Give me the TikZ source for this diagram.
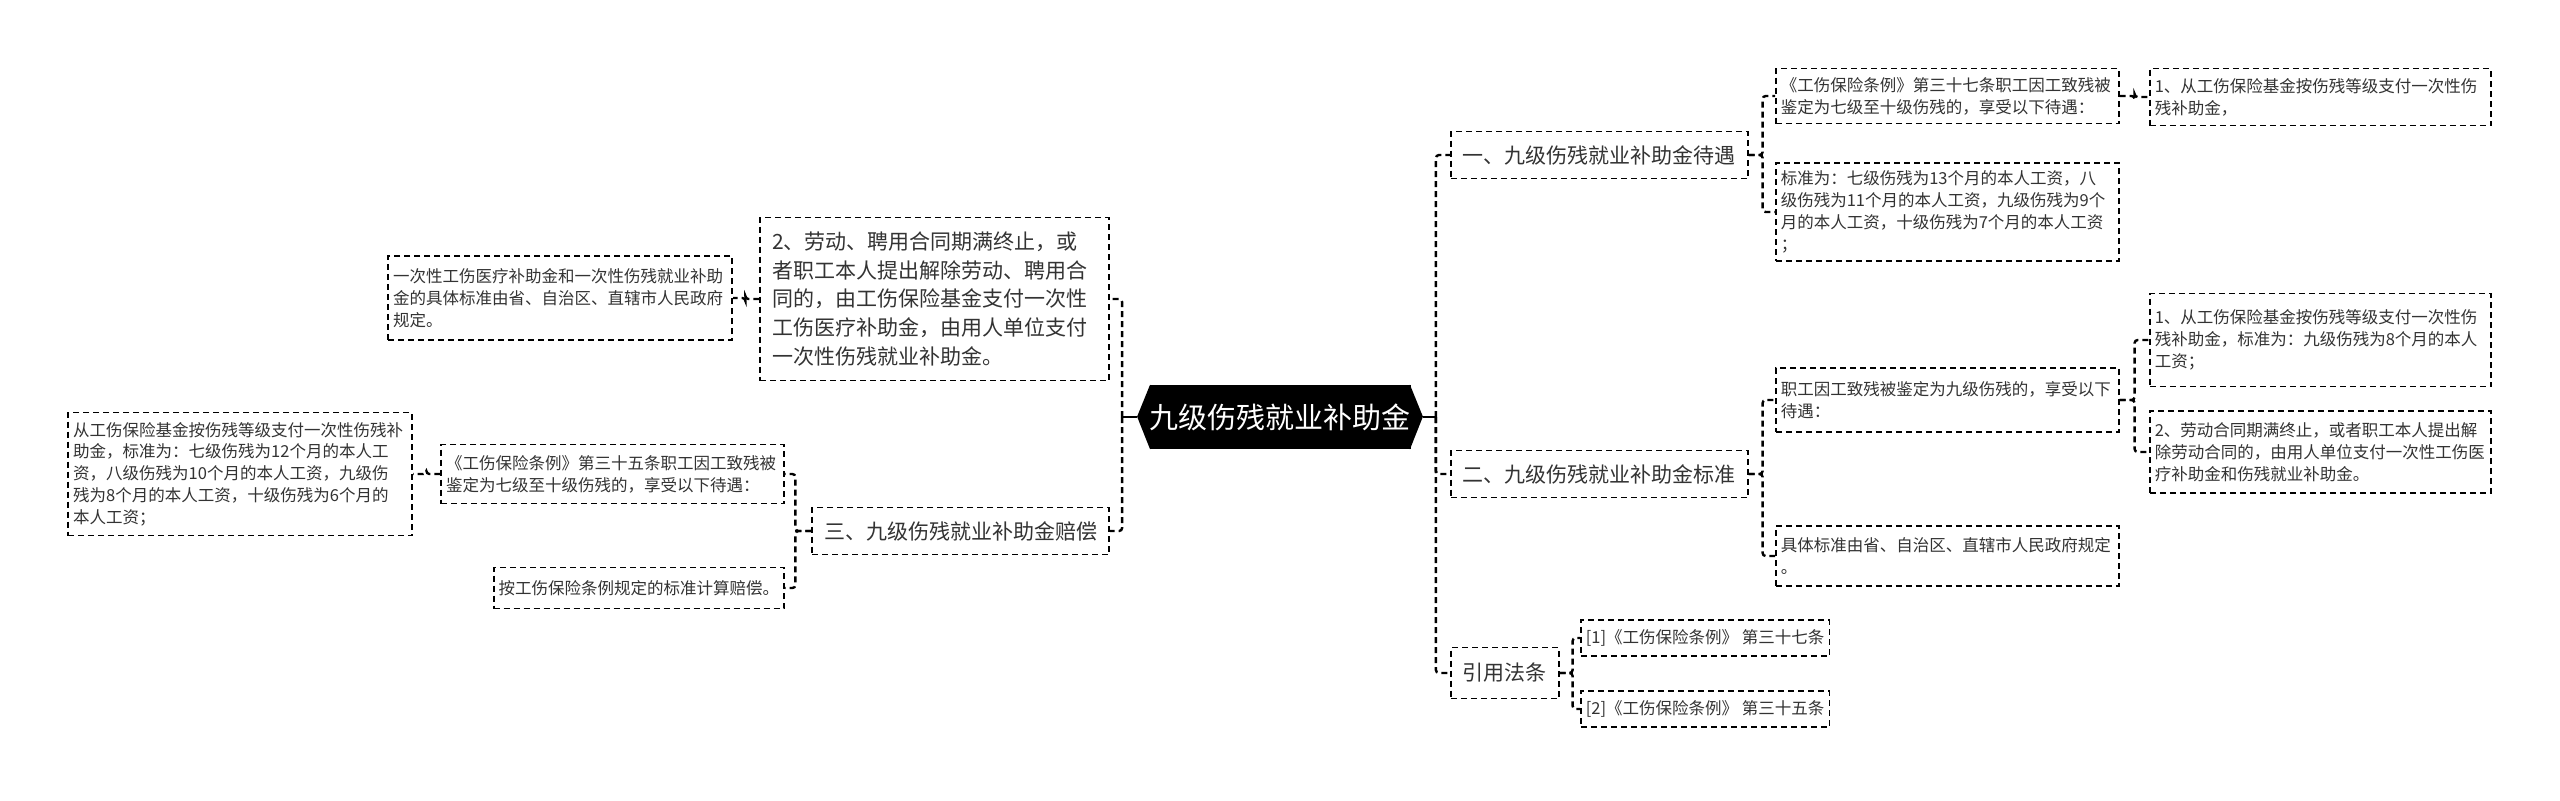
\documentclass[tikz,border=0pt]{standalone}
\usepackage{fontspec}
\setmainfont{Noto Sans CJK SC}
\usepackage{xcolor}
\definecolor{inkgrey}{HTML}{333333}
\usetikzlibrary{positioning}
\tikzset{
  box/.style={draw=black, line width=0.8pt, dash pattern=on 3pt off 2pt,
              text=inkgrey, align=left},
  leaf/.style={box, font=\fontsize{8.25pt}{10.9pt}\selectfont,
               inner xsep=2.5pt, inner ysep=3pt},
  topic/.style={box, font=\fontsize{10.5pt}{14.3pt}\selectfont,
                inner xsep=6pt, inner ysep=4pt},
  hub/.style={fill=black, text=white, font=\fontsize{14.5pt}{16pt}\selectfont,
              minimum width=130pt, minimum height=32pt, inner sep=0pt},
  link/.style={draw=black, line width=1.2pt, dash pattern=on 3pt off 2pt,
               rounded corners=1.5pt},
  stem/.style={draw=black, line width=1.2pt},
}

\begin{document}
\begin{tikzpicture}[x=0.5pt, y=-0.5pt]
  \fill[white] (0,0) rectangle (2560,800);
  \useasboundingbox (0,0) rectangle (2560,800);

  % centre
  \node[hub] (root) at (1280,417) {九级伤残就业补助金};
  \fill ([xshift=0.5pt]root.north west) -- ++(-13,32) -- ([xshift=0.5pt]root.south west) -- cycle;
  \fill ([xshift=-0.5pt]root.north east) -- ++(13,32) -- ([xshift=-0.5pt]root.south east) -- cycle;

  % left side
  \node[topic, anchor=east, text width=162.5pt, minimum height=81.5pt] (A) at (1110,299)
    {2、劳动、聘用合同期满终止，或\\者职工本人提出解除劳动、聘用合\\同的，由工伤保险基金支付一次性\\工伤医疗补助金，由用人单位支付\\一次性伤残就业补助金。};
  \node[topic, anchor=east, minimum height=23.5pt] (B) at (1110,531) {三、九级伤残就业补助金赔偿};
  \node[leaf, anchor=east, text width=167pt, minimum height=42pt] (E) at (733,298)
    {一次性工伤医疗补助金和一次性伤残就业补助\\金的具体标准由省、自治区、直辖市人民政府\\规定。};
  \node[leaf, anchor=east, text width=166.5pt, minimum height=29.5pt] (C1) at (785,474)
    {《工伤保险条例》第三十五条职工因工致残被\\鉴定为七级至十级伤残的，享受以下待遇：};
  \node[leaf, anchor=east, minimum height=20.5pt] (C2) at (785,588) {按工伤保险条例规定的标准计算赔偿。};
  \node[leaf, anchor=east, text width=167pt, minimum height=61.5pt] (D) at (413,474)
    {从工伤保险基金按伤残等级支付一次性伤残补\\助金，标准为：七级伤残为12个月的本人工\\资，八级伤残为10个月的本人工资，九级伤\\残为8个月的本人工资，十级伤残为6个月的\\本人工资；};

  % right side
  \node[topic, anchor=west, minimum height=23.5pt] (R1) at (1450,155) {一、九级伤残就业补助金待遇};
  \node[leaf, anchor=west, text width=166.5pt, minimum height=27.5pt] (R1a) at (1775,96)
    {《工伤保险条例》第三十七条职工因工致残被\\鉴定为七级至十级伤残的，享受以下待遇：};
  \node[leaf, anchor=west, text width=166.5pt, minimum height=49pt] (R1b) at (1775,212)
    {标准为：七级伤残为13个月的本人工资，八\\级伤残为11个月的本人工资，九级伤残为9个\\月的本人工资，十级伤残为7个月的本人工资\\；};
  \node[leaf, anchor=west, text width=165.5pt, minimum height=28.5pt] (R1a1) at (2149,97)
    {1、从工伤保险基金按伤残等级支付一次性伤\\残补助金，};
  \node[topic, anchor=west, minimum height=23.5pt] (R2) at (1450,474) {二、九级伤残就业补助金标准};
  \node[leaf, anchor=west, text width=166.5pt, minimum height=32pt] (R2a) at (1775,400)
    {职工因工致残被鉴定为九级伤残的，享受以下\\待遇：};
  \node[leaf, anchor=west, text width=166.5pt, minimum height=30pt] (R2b) at (1775,556)
    {具体标准由省、自治区、直辖市人民政府规定\\。};
  \node[leaf, anchor=west, text width=165.5pt, minimum height=46.5pt] (R2a1) at (2149,340)
    {1、从工伤保险基金按伤残等级支付一次性伤\\残补助金，标准为：九级伤残为8个月的本人\\工资；};
  \node[leaf, anchor=west, text width=165.5pt, minimum height=41pt] (R2a2) at (2149,452)
    {2、劳动合同期满终止，或者职工本人提出解\\除劳动合同的，由用人单位支付一次性工伤医\\疗补助金和伤残就业补助金。};
  \node[topic, anchor=west, minimum height=25.5pt] (R3) at (1450,673) {引用法条};
  \node[leaf, anchor=west, minimum height=18pt] (R3a) at (1580,638) {[1]《工伤保险条例》 第三十七条};
  \node[leaf, anchor=west, minimum height=18pt] (R3b) at (1580,709) {[2]《工伤保险条例》 第三十五条};

  % connectors
  \draw[stem] ([xshift=-6pt]root.west) -- ++(-15,0) coordinate (lsp);
  \draw[stem] ([xshift=6pt]root.east) -- ++(13,0) coordinate (rsp);
  \foreach \n in {A,B} \draw[link] (lsp) |- (\n.east);
  \foreach \n in {R1,R2,R3} \draw[link] (rsp) |- (\n.west);
  \draw[link] (A.west) -- ++(-14,0) |- (E.east);
  \foreach \n in {C1,C2} \draw[link] (B.west) -- ++(-16,0) |- (\n.east);
  \draw[link] (C1.west) -- ++(-14,0) |- (D.east);
  \foreach \n in {R1a,R1b} \draw[link] (R1.east) -- ++(14,0) |- (\n.west);
  \draw[link] (R1a.east) -- ++(15,0) |- (R1a1.west);
  \foreach \n in {R2a,R2b} \draw[link] (R2.east) -- ++(14,0) |- (\n.west);
  \foreach \n in {R2a1,R2a2} \draw[link] (R2a.east) -- ++(15,0) |- (\n.west);
  \foreach \n in {R3a,R3b} \draw[link] (R3.east) -- ++(13,0) |- (\n.west);
\end{tikzpicture}
\end{document}
